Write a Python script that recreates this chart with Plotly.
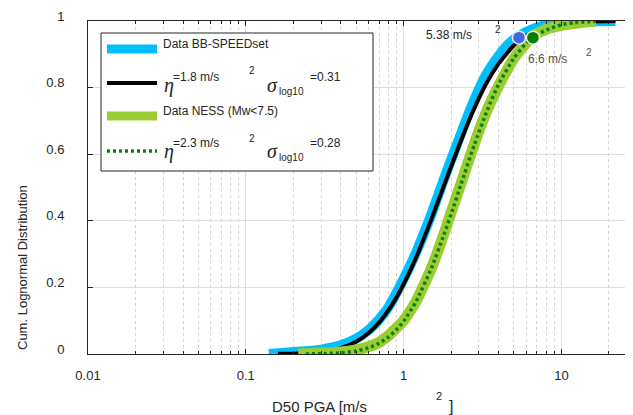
import plotly.graph_objects as go

# ---------------- data ----------------
bb_x = [0.14, 0.17, 0.2, 0.25, 0.3, 0.4, 0.5, 0.6, 0.7, 0.8, 1.0, 1.2, 1.5, 1.8,
        2.2, 2.7, 3.3, 4.0, 4.6, 5.38, 6.5, 8, 10, 13, 17, 22]
bb_f = [0.0, 0.003, 0.006, 0.009, 0.013, 0.026, 0.046, 0.072, 0.104, 0.14, 0.225,
        0.305, 0.42, 0.525, 0.635, 0.745, 0.835, 0.895, 0.93, 0.955, 0.975, 0.988,
        0.994, 0.998, 0.999, 1.0]

fit1_x = [0.16, 0.2, 0.25, 0.3, 0.35, 0.4, 0.5, 0.6, 0.7, 0.8, 0.9, 1.0, 1.2, 1.5,
          1.8, 2.2, 2.7, 3.3, 4.0, 5.0, 6.0, 7.0, 8.0, 10, 12, 15, 22]
fit1_f = [0.0004, 0.001, 0.003, 0.006, 0.011, 0.0175, 0.037, 0.063, 0.095, 0.131,
          0.17, 0.21, 0.29, 0.405, 0.505, 0.615, 0.72, 0.808, 0.872, 0.927, 0.956,
          0.972, 0.982, 0.992, 0.996, 0.9985, 0.9998]

ness_x = [0.215, 0.3, 0.4, 0.5, 0.6, 0.7, 0.8, 0.9, 1.0, 1.2, 1.5, 1.8, 2.0, 2.3,
          2.6, 3.0, 3.4, 4.0, 5.0, 6.6, 8, 10, 13, 16.5]
ness_f = [0.0, 0.002, 0.006, 0.012, 0.022, 0.035, 0.055, 0.078, 0.10, 0.158, 0.258,
          0.36, 0.425, 0.51, 0.585, 0.67, 0.735, 0.805, 0.888, 0.955, 0.975, 0.987,
          0.995, 1.0]

fit2_x = [0.24, 0.3, 0.4, 0.5, 0.6, 0.7, 0.8, 0.9, 1.0, 1.2, 1.5, 1.8, 2.0, 2.3,
          2.8, 3.4, 4.0, 5.0, 6.0, 7.0, 8.0, 10, 12, 16.5]
fit2_f = [0.0002, 0.0008, 0.0034, 0.0089, 0.0185, 0.0325, 0.0505, 0.0727, 0.098,
          0.158, 0.258, 0.358, 0.42, 0.507, 0.627, 0.734, 0.81, 0.889, 0.934, 0.959,
          0.973, 0.989, 0.9948, 0.9989]

p95_x = [5.38, 6.6]
p95_f = [0.95, 0.95]

x_ticks = [0.01, 0.1, 1, 10]
x_ticktext = ["0.01", "0.1", "1", "10"]
y_ticks = [0, 0.2, 0.4, 0.6, 0.8, 1]
y_ticktext = ["0", "0.2", "0.4", "0.6", "0.8", "1"]
x_minor = [m * 10 ** k for k in (-2, -1, 0, 1) for m in range(2, 10)]

# ---------------- layout helpers ----------------
# the page body adds an 8px offset, so reference pixel coords are shifted by -8
OFF = 8
W, H = 633, 415
PL, PT, PRt, PB = 88, 21, 633, 354          # plot area in reference pixels
L, T = PL - OFF, PT - OFF
R = W - (PRt - OFF)
B = H - (PB - OFF)
PW, PH = PRt - PL, PB - PT
def px(x): return (x - PL) / PW
def py(y): return (PB - y) / PH

TXT = "#262626"
FONT = "Liberation Sans, Arial, sans-serif"
SERIF = "Liberation Serif, Times New Roman, serif"
CYAN, LGREEN, DGREEN = "#00BFFF", "#9ACD32", "#0A7F0A"

fig = go.Figure()
fig.add_trace(go.Scatter(x=bb_x, y=bb_f, mode="lines", name="Data BB-SPEEDset",
                         line=dict(color=CYAN, width=10, shape="spline", smoothing=0.5)))
fig.add_trace(go.Scatter(x=fit1_x, y=fit1_f, mode="lines", name="fit 1",
                         line=dict(color="black", width=4, shape="spline", smoothing=0.5)))
fig.add_trace(go.Scatter(x=ness_x, y=ness_f, mode="lines", name="Data NESS (Mw<7.5)",
                         line=dict(color=LGREEN, width=11, shape="spline", smoothing=0.5)))
fig.add_trace(go.Scatter(x=fit2_x, y=fit2_f, mode="lines", name="fit 2",
                         line=dict(color=DGREEN, width=3.5, dash="3px,3px",
                                   shape="spline", smoothing=0.5)))
fig.add_trace(go.Scatter(x=p95_x[:1], y=p95_f[:1], mode="markers",
                         marker=dict(size=13, color="#4169E1",
                                     line=dict(color="#E8E8F8", width=1.5))))
fig.add_trace(go.Scatter(x=p95_x[1:], y=p95_f[1:], mode="markers",
                         marker=dict(size=13, color="#008000",
                                     line=dict(color="#E8F0E8", width=1.5))))

axis_common = dict(showline=True, linecolor=TXT, linewidth=1, ticks="inside",
                   ticklen=5, tickcolor=TXT, zeroline=False, automargin=False,
                   tickfont=dict(family=FONT, size=13, color=TXT),
                   showgrid=True, gridcolor="#DEDEDE", gridwidth=1)

fig.update_xaxes(type="log", range=[-2, 1.4535], tickvals=x_ticks,
                 ticktext=x_ticktext, mirror="ticks", ticklabelstandoff=9,
                 minor=dict(tickvals=x_minor, ticks="inside", ticklen=3,
                            tickcolor=TXT, showgrid=True, gridcolor="#D4D4D4",
                            griddash="dot", gridwidth=1),
                 **axis_common)
fig.update_yaxes(range=[0, 1], tickvals=y_ticks, ticktext=y_ticktext,
                 ticklabelstandoff=20, ticklabelshift=-5, **axis_common)

shapes = [
    dict(type="rect", xref="paper", yref="paper", x0=px(101), x1=px(373),
         y0=py(171), y1=py(33), line=dict(color=TXT, width=1), fillcolor="white",
         layer="above"),
    dict(type="line", xref="paper", yref="paper", x0=px(107), x1=px(157),
         y0=py(49), y1=py(49), line=dict(color=CYAN, width=9), layer="above"),
    dict(type="line", xref="paper", yref="paper", x0=px(107), x1=px(157),
         y0=py(83), y1=py(83), line=dict(color="black", width=4), layer="above"),
    dict(type="line", xref="paper", yref="paper", x0=px(107), x1=px(157),
         y0=py(116), y1=py(116), line=dict(color=LGREEN, width=9), layer="above"),
    dict(type="line", xref="paper", yref="paper", x0=px(107), x1=px(157),
         y0=py(151), y1=py(151), line=dict(color=DGREEN, width=3.5, dash="3px,3px"),
         layer="above"),
]

def ann(text, x, y, size=12, xanchor="left", family=FONT, color=TXT, angle=0):
    return dict(text=text, x=px(x), y=py(y), xref="paper", yref="paper",
                xanchor=xanchor, yanchor="middle", showarrow=False,
                textangle=angle, font=dict(family=family, size=size, color=color))

annotations = [
    ann("Data BB-SPEEDset", 161, 44),
    ann("<i>η</i>", 162, 85, size=20, family=SERIF),
    ann("=1.8 m/s", 171, 77),
    ann("2", 252, 71, size=10, xanchor="center"),
    ann("<i>σ</i>", 265, 85, size=20, family=SERIF),
    ann("log10", 277, 91, size=10),
    ann("=0.31", 308, 77),
    ann("Data NESS (Mw<7.5)", 161, 111),
    ann("<i>η</i>", 162, 151, size=20, family=SERIF),
    ann("=2.3 m/s", 171, 143),
    ann("2", 252, 138, size=10, xanchor="center"),
    ann("<i>σ</i>", 265, 151, size=20, family=SERIF),
    ann("log10", 277, 157, size=10),
    ann("=0.28", 308, 143),
    ann("5.38 m/s", 424, 35, size=12),
    ann("2", 498, 29, size=10, xanchor="center"),
    ann("6.6 m/s", 526, 59, size=12, color="#505050"),
    ann("2", 589, 52, size=10, xanchor="center", color="#505050"),
    ann("D50 PGA [m/s", 270, 406, size=15),
    ann("2", 439, 396, size=11, xanchor="center"),
    ann("]", 447, 406, size=16),
    ann("Cum. Lognormal Distribution", 22, 268, size=13, xanchor="center", angle=-90),
]

fig.update_layout(width=W, height=H, margin=dict(l=L, r=R, t=T, b=B, autoexpand=False),
                  plot_bgcolor="white", paper_bgcolor="white", showlegend=False,
                  shapes=shapes, annotations=annotations,
                  font=dict(family=FONT, color=TXT))

fig.write_html("out.html")
